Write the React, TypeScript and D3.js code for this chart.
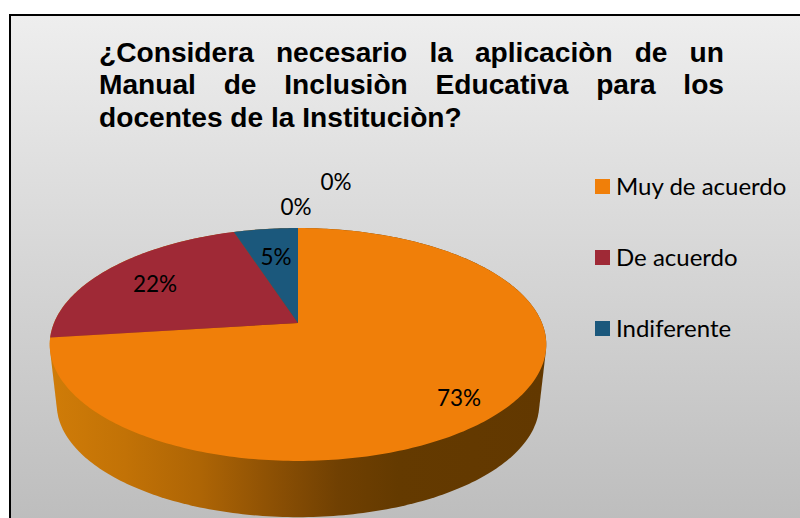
import React from "react";
import * as d3 from "d3";

const categories = ["Muy de acuerdo", "De acuerdo", "Indiferente", "En desacuerdo", "Muy en desacuerdo"];
const values = [73, 22, 5, 0, 0];
const labels = ["73%", "22%", "5%", "0%", "0%"];
const colors = ["#f07f09", "#9f2936", "#1b587c", "#4e8542", "#604878"];
const legendCount = 3;
const titleLines = [
  "¿Considera necesario la aplicaciòn de un",
  "Manual de Inclusiòn Educativa para los",
  "docentes de la Instituciòn?",
];
const labelPos: [number, number][] = [[459, 406], [155, 292], [276, 265], [296, 215], [336, 190]];

const W = 800, H = 518;
const cx = 298, apexY = 323, R = 244;
const persp = -0.1845, slopeY = 52.9;
const rimScale = 0.972, rimDrop = 59.5, midY = 344.5;

// perspective projection of the unit disc onto the screen
function top(theta: number): [number, number] {
  const u = Math.sin(theta), v = -Math.cos(theta);
  const w = 1 + persp * v;
  return [cx + (R * u) / w, (slopeY * v + apexY) / w];
}
function bottom(theta: number): [number, number] {
  const [x, y] = top(theta);
  return [cx + (x - cx) * rimScale, midY + (y - midY) * rimScale + rimDrop];
}

const pieGen = d3.pie<number>().sort(null).value((d) => d);
const arcs = pieGen(values);
const line = d3.line();

function slicePath(a0: number, a1: number) {
  const n = Math.max(2, Math.ceil((a1 - a0) * 60));
  const pts: [number, number][] = [[cx, apexY]];
  d3.range(n + 1).forEach((i) => pts.push(top(a0 + ((a1 - a0) * i) / n)));
  return line(pts) + "Z";
}

const ring = d3.range(360).map((i) => (i * Math.PI) / 180);
const hull = d3.polygonHull([...ring.map(top), ...ring.map(bottom)])!;

const sideStops: [number, string][] = [
  [0, "#d07c08"], [0.15, "#c27206"], [0.3, "#ae6505"], [0.45, "#8c5004"],
  [0.58, "#704002"], [0.7, "#643a00"], [1, "#623800"],
];

const titleFont = "bold 28.15px 'Liberation Sans'";
const titleX0 = 99, titleX1 = 724;
function wordSpacing(text: string) {
  const ctx = document.createElement("canvas").getContext("2d")!;
  ctx.font = titleFont;
  const gaps = text.split(" ").length - 1;
  return (titleX1 - titleX0 - ctx.measureText(text).width) / gaps;
}

export default function App() {
  return (
    <svg width={W} height={H} style={{ position: "absolute", left: 0, top: 0 }}>
      <defs>
        <linearGradient id="bg" x1="0" y1="0" x2="0" y2="1">
          <stop offset="0" stopColor="#eeeeee" />
          <stop offset="1" stopColor="#bcbcbc" />
        </linearGradient>
        <linearGradient id="side" gradientUnits="userSpaceOnUse" x1={50} x2={547} y1={0} y2={0}>
          {sideStops.map(([o, c]) => <stop key={o} offset={o} stopColor={c} />)}
        </linearGradient>
      </defs>
      <rect width={W} height={H} fill="#fff" />
      <rect x={10} y={15} width={W} height={H} fill="url(#bg)" stroke="#000" strokeWidth={2} />
      {titleLines.map((t, i) => (
        <text key={i} x={titleX0} y={62 + i * 32.3}
          style={{ font: titleFont, wordSpacing: i < titleLines.length - 1 ? wordSpacing(t) : 0 }} fill="#000">{t}</text>
      ))}
      <path d={line(hull) + "Z"} fill="url(#side)" />
      {arcs.map((a, i) => a.value > 0 && (
        <path key={i} d={slicePath(a.startAngle, a.endAngle)} fill={colors[i]} />
      ))}
      {labels.map((l, i) => (
        <text key={i} x={labelPos[i][0]} y={labelPos[i][1]} textAnchor="middle"
          fontFamily="Lato" fontSize={22.5} fill="#000">{l}</text>
      ))}
      {categories.slice(0, legendCount).map((c, i) => (
        <g key={c}>
          <rect x={595} y={179 + i * 71} width={15} height={15} fill={colors[i]} />
          <text x={616} y={195 + i * 71} fontFamily="Lato" fontSize={24} fill="#000">{c}</text>
        </g>
      ))}
    </svg>
  );
}
